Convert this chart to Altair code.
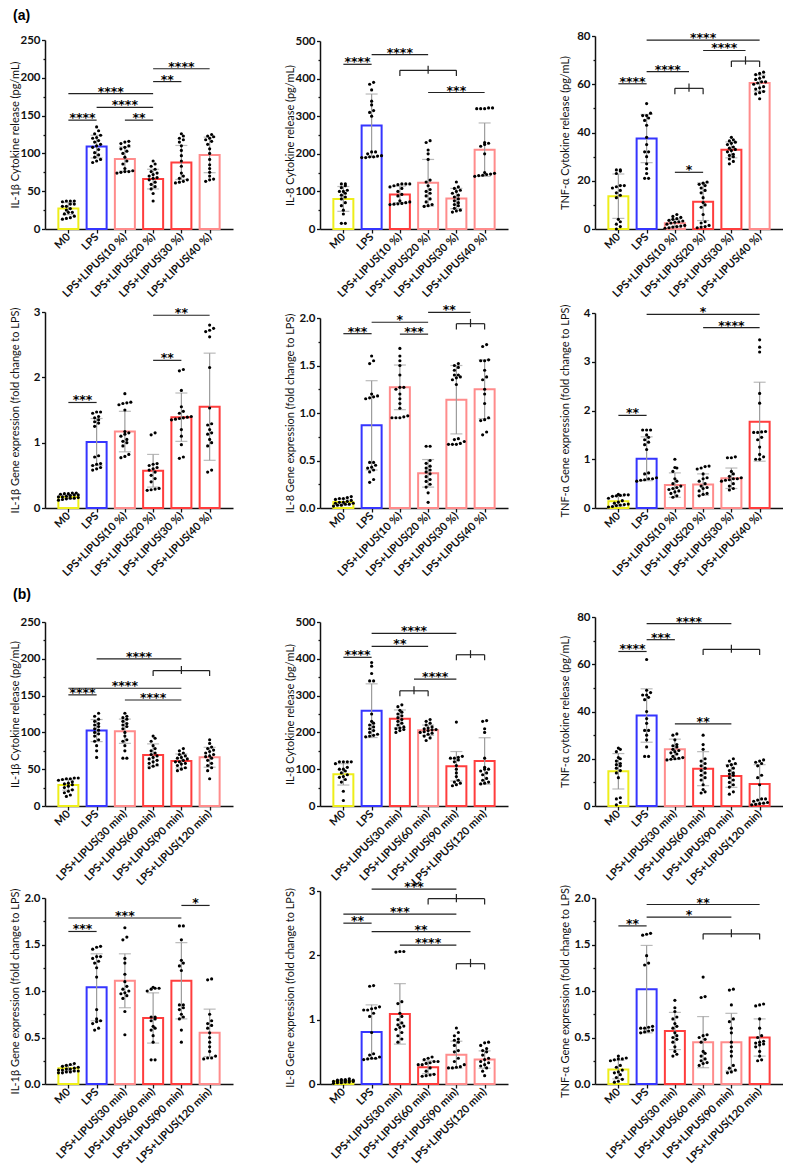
import json
import altair as alt
import pandas as pd

FONT = "Lato"
STAR_FONT = "DejaVu Sans"

CATS_A = ["M0", "LPS", "LPS+LIPUS(10 %)", "LPS+LIPUS(20 %)", "LPS+LIPUS(30 %)", "LPS+LIPUS(40 %)"]
CATS_B = ["M0", "LPS", "LPS+LIPUS(30 min)", "LPS+LIPUS(60 min)", "LPS+LIPUS(90 min)", "LPS+LIPUS(120 min)"]

TONE_DOMAIN = ["M0", "LPS", "red", "light"]
TONE_RANGE = ["#EEEE1A", "#3535FF", "#FF3D3D", "#FF8C8C"]

# ---------------- (a) IL-1b cytokine ----------------
A1_TITLE = "IL-1β Cytokine release (pg/mL)"
A1_MEAN = [27, 109, 92.5, 66, 88, 98]
A1_SD = [8, 15, 16, 13, 22.5, 23.5]
A1_TONE = ["M0", "LPS", "light", "red", "red", "light"]
A1_DOTS = [
    [13, 14, 15, 17, 20, 22, 22, 25, 27, 30, 30, 33, 33, 36, 37, 37, 37],
    [88, 90, 92, 95, 98, 101, 105, 108, 110, 112, 115, 117, 120, 121, 124, 126, 130, 135],
    [74, 75, 76, 76, 77, 80, 86, 90, 95, 100, 103, 106, 108, 110, 113, 115, 116],
    [37, 47, 53, 56, 59, 62, 65, 67, 68, 70, 72, 74, 76, 79, 83, 86, 90],
    [61, 62, 63, 65, 67, 70, 74, 83, 90, 97, 104, 110, 115, 118, 120, 123, 126],
    [63, 65, 66, 70, 75, 80, 85, 92, 100, 106, 112, 116, 118, 120, 122, 123, 125],
]
A1_SIG = [(0, 1, 144, "****"), (2, 3, 144, "**"), (1, 3, 161, "****"),
          (0, 3, 179, "****"), (3, 4, 195, "**"), (3, 5, 212, "****")]

# ---------------- (a) IL-8 cytokine ----------------
A2_TITLE = "IL-8 Cytokine release (pg/mL)"
A2_MEAN = [80, 275, 92, 123, 81, 211]
A2_SD = [33, 84, 22, 62, 27, 71]
A2_TONE = ["M0", "LPS", "red", "light", "light", "light"]
A2_DOTS = [
    [15, 15, 40, 50, 62, 70, 80, 85, 90, 95, 100, 100, 103, 110, 115, 120, 120],
    [190, 190, 192, 192, 194, 195, 200, 205, 205, 300, 310, 315, 330, 340, 370, 385, 390],
    [65, 66, 67, 68, 70, 72, 75, 88, 92, 100, 108, 112, 115, 118, 120, 120, 120],
    [60, 62, 65, 72, 80, 88, 95, 100, 105, 115, 125, 130, 185, 200, 210, 230, 235],
    [45, 48, 50, 55, 62, 65, 70, 75, 80, 85, 90, 95, 100, 103, 108, 112, 125],
    [140, 142, 143, 145, 146, 148, 150, 200, 220, 225, 228, 230, 320, 320, 320, 322, 322],
]
A2_SIG = [(0, 1, 438, "****"), (1, 3, 464, "****"), (2, 4, 422, ""), (3, 5, 363, "***")]

# ---------------- (a) TNF-a cytokine ----------------
A3_TITLE = "TNF-α Cytokine release (pg/mL)"
A3_MEAN = [13.6, 37.5, 2.4, 11.3, 32.8, 60.5]
A3_SD = [9.2, 10, 1.6, 7.8, 3.3, 3.3]
A3_TONE = ["M0", "LPS", "light", "red", "red", "light"]
A3_DOTS = [
    [0, 1, 2, 3, 4, 13, 14, 15, 16, 17, 17.5, 18, 18, 23, 24, 24.5, 24.5],
    [21, 21, 23, 25, 27, 30, 32, 32, 35, 38, 43, 45, 46, 47, 47, 48, 52],
    [0.3, 0.5, 0.8, 1, 1.2, 1.5, 2, 2.5, 2.8, 3, 3.3, 3.6, 4, 4.3, 4.8, 5.2, 6],
    [0.5, 0.8, 1, 1.5, 2.5, 3, 6, 9, 10, 11, 13, 15, 16, 17, 18, 18.5, 19, 19.5],
    [27, 28, 29, 30, 30.5, 31, 32, 32.5, 33, 33.5, 34, 35, 35.5, 36, 36.5, 37, 38],
    [54, 56, 56.5, 57, 58, 58.5, 59, 60, 60.5, 61, 61, 62, 62.5, 63, 64, 64.5, 65],
]
A3_SIG = [(0, 1, 60.2, "****"), (1, 2.5, 65.2, "****"), (2, 3, 58.3, ""), (2, 3, 23.5, "*"),
          (3, 4.5, 74, "****"), (4, 5, 69.6, ""), (1, 5, 78.3, "****")]

# ---------------- (a) IL-1b gene ----------------
A4_TITLE = "IL-1β Gene expression (fold change to LPS)"
A4_MEAN = [0.17, 1.01, 1.17, 0.57, 1.39, 1.55]
A4_SD = [0.03, 0.36, 0.31, 0.25, 0.37, 0.82]
A4_TONE = ["M0", "LPS", "light", "red", "red", "red"]
A4_DOTS = [
    [0.12, 0.13, 0.14, 0.15, 0.15, 0.16, 0.17, 0.17, 0.18, 0.19, 0.2, 0.2, 0.21, 0.22, 0.22, 0.23, 0.23],
    [0.58, 0.6, 0.62, 0.65, 0.67, 0.68, 0.78, 0.8, 1.25, 1.3, 1.32, 1.35, 1.38, 1.4, 1.45, 1.47, 1.47],
    [0.77, 0.79, 0.82, 0.95, 1, 1.02, 1.05, 1.1, 1.13, 1.15, 1.17, 1.5, 1.58, 1.6, 1.61, 1.62, 1.75],
    [0.27, 0.28, 0.29, 0.3, 0.4, 0.45, 0.5, 0.55, 0.58, 0.6, 0.62, 0.65, 0.67, 0.68, 1.12, 1.15],
    [0.76, 0.78, 0.97, 1.1, 1.2, 1.35, 1.36, 1.37, 1.38, 1.39, 1.4, 1.45, 1.48, 1.55, 1.8, 2.1, 2.12],
    [0.55, 0.58, 0.95, 1.0, 1.05, 1.13, 1.15, 1.2, 1.27, 1.29, 1.53, 2.15, 2.62, 2.7, 2.72, 2.75, 2.8],
]
A4_SIG = [(0, 1, 1.615, "***"), (3, 4, 2.26, "**"), (3, 5, 2.95, "**")]

# ---------------- (a) IL-8 gene ----------------
A5_TITLE = "IL-8 Gene expression (fold change to LPS)"
A5_MEAN = [0.063, 0.87, 1.27, 0.365, 1.14, 1.25]
A5_SD = [0.03, 0.47, 0.235, 0.145, 0.36, 0.31]
A5_TONE = ["M0", "LPS", "light", "light", "light", "light"]
A5_DOTS = [
    [0.02, 0.03, 0.03, 0.04, 0.04, 0.05, 0.05, 0.06, 0.06, 0.07, 0.08, 0.09, 0.1, 0.1, 0.11, 0.12],
    [0.27, 0.3, 0.38, 0.4, 0.42, 0.43, 0.45, 0.48, 0.48, 1.15, 1.16, 1.17, 1.18, 1.2, 1.52, 1.55, 1.6],
    [0.95, 0.95, 0.95, 0.96, 0.97, 1.05, 1.1, 1.15, 1.2, 1.25, 1.27, 1.27, 1.4, 1.5, 1.55, 1.6, 1.68],
    [0.06, 0.16, 0.22, 0.25, 0.28, 0.3, 0.33, 0.36, 0.38, 0.4, 0.42, 0.44, 0.47, 0.5, 0.65, 0.65],
    [0.67, 0.67, 0.67, 0.68, 0.7, 0.72, 0.73, 1.3, 1.35, 1.37, 1.38, 1.4, 1.4, 1.45, 1.48, 1.5, 1.52],
    [0.77, 0.8, 0.92, 0.93, 0.95, 1.1, 1.2, 1.25, 1.35, 1.38, 1.45, 1.55, 1.55, 1.56, 1.7, 1.72],
]
A5_SIG = [(0, 1, 1.835, "***"), (1, 3, 1.955, "*"), (2, 3, 1.83, "***"),
          (3, 4.5, 2.06, "**"), (4, 5, 1.94, "")]

# ---------------- (a) TNF-a gene ----------------
A6_TITLE = "TNF-α Gene expression (fold change to LPS)"
A6_MEAN = [0.14, 1.01, 0.47, 0.48, 0.61, 1.77]
A6_SD = [0.1, 0.45, 0.25, 0.22, 0.21, 0.81]
A6_TONE = ["M0", "LPS", "light", "light", "light", "red"]
A6_DOTS = [
    [0.02, 0.03, 0.05, 0.06, 0.07, 0.08, 0.1, 0.12, 0.15, 0.2, 0.24, 0.25, 0.26, 0.27, 0.27, 0.28],
    [0.55, 0.57, 0.58, 0.6, 0.6, 0.62, 0.7, 0.72, 1.2, 1.3, 1.35, 1.4, 1.45, 1.5, 1.6, 1.6, 1.6],
    [0.22, 0.25, 0.3, 0.33, 0.35, 0.38, 0.4, 0.42, 0.45, 0.5, 0.55, 0.6, 0.75, 0.82, 0.83, 1.0],
    [0.25, 0.28, 0.3, 0.35, 0.4, 0.42, 0.45, 0.5, 0.55, 0.6, 0.62, 0.7, 0.8, 0.82, 0.85, 0.86],
    [0.37, 0.4, 0.45, 0.5, 0.55, 0.57, 0.58, 0.6, 0.6, 0.62, 0.65, 0.7, 0.75, 1.03, 1.03, 1.05],
    [1.0, 1.0, 1.05, 1.1, 1.25, 1.4, 1.45, 1.55, 1.55, 1.56, 1.57, 2.15, 2.35, 3.2, 3.3, 3.45],
]
A6_SIG = [(0, 1, 1.9, "**"), (3, 5, 3.7, "****"), (1, 5, 3.97, "*")]

# ---------------- (b) IL-1b cytokine ----------------
B1_TITLE = "IL-1β Cytokine release (pg/mL)"
B1_MEAN = [28.6, 102.5, 101.6, 69.4, 61.2, 66.2]
B1_SD = [7, 15, 16.5, 15, 9.5, 13.5]
B1_TONE = ["M0", "LPS", "light", "red", "red", "light"]
B1_DOTS = [
    [13, 15, 18, 20, 22, 25, 27, 29, 30, 31, 33, 35, 36, 37, 37, 38, 38],
    [66, 75, 82, 88, 90, 95, 98, 100, 103, 105, 108, 110, 112, 115, 118, 122, 126],
    [65, 65, 75, 82, 88, 90, 95, 100, 105, 108, 110, 112, 115, 118, 120, 122, 126],
    [52, 54, 56, 58, 60, 62, 64, 66, 68, 70, 72, 75, 78, 82, 88, 92, 95],
    [48, 50, 52, 55, 57, 58, 60, 60, 62, 64, 65, 66, 68, 70, 72, 75, 78],
    [37, 48, 52, 55, 58, 62, 65, 67, 68, 70, 72, 74, 76, 78, 80, 85, 90],
]
B1_SIG = [(0, 1, 151, "****"), (2, 4, 144, "****"), (0, 4, 160, "****"),
          (3, 5, 184, ""), (1, 4, 200, "****")]

# ---------------- (b) IL-8 cytokine ----------------
B2_TITLE = "IL-8 Cytokine release (pg/mL)"
B2_MEAN = [86, 259, 237, 206, 108, 122.5]
B2_SD = [29, 73, 24, 14, 40, 63]
B2_TONE = ["M0", "LPS", "red", "light", "red", "red"]
B2_DOTS = [
    [15, 40, 65, 72, 78, 80, 85, 90, 95, 100, 100, 105, 115, 120, 120, 120, 120],
    [188, 190, 192, 195, 200, 205, 210, 215, 220, 225, 230, 250, 340, 340, 360, 380, 390],
    [200, 205, 208, 210, 212, 215, 220, 225, 230, 235, 240, 245, 250, 255, 260, 270, 275],
    [178, 185, 190, 195, 198, 200, 202, 205, 207, 208, 210, 212, 215, 220, 225, 230, 235],
    [55, 58, 62, 65, 70, 80, 90, 100, 110, 120, 125, 130, 130, 132, 135, 228],
    [60, 62, 65, 70, 75, 85, 90, 95, 100, 100, 105, 130, 200, 210, 230, 232],
]
B2_SIG = [(0, 1, 404, "****"), (1, 3, 434, "**"), (1, 4, 469, "****"), (2, 3, 313, ""),
          (2.5, 4, 345, "****"), (4, 5, 411, "")]

# ---------------- (b) TNF-a cytokine ----------------
B3_TITLE = "TNF-α cytokine release (pg/mL)"
B3_MEAN = [14.7, 38.3, 24, 15.8, 12.7, 9.3]
B3_SD = [7.5, 11.3, 4.3, 7.2, 4.8, 8.2]
B3_TONE = ["M0", "LPS", "light", "red", "red", "red"]
B3_DOTS = [
    [0.5, 1.5, 3, 3.5, 12, 14, 15, 16, 17, 17.5, 18, 19, 20, 20.5, 23, 24, 24.5],
    [21, 21, 25, 28, 30, 32, 32, 35, 37, 40, 45, 46, 47, 47, 48, 49, 62],
    [19.5, 19.8, 20, 20.2, 20.5, 21, 22, 22.5, 23, 23.5, 24, 25, 25.5, 26, 28, 30, 30.5],
    [5.5, 6, 7, 9, 11, 12, 13, 14, 15, 16, 17, 18, 19, 20, 24, 26, 30],
    [5, 6, 8, 9, 10, 11, 12, 13, 13.5, 14, 15, 16, 17, 17.5, 18, 19, 20],
    [0.5, 0.7, 1, 1.2, 1.5, 2, 2.5, 3, 3, 9, 12, 13, 17, 18, 18.5, 19, 19.5],
]
B3_SIG = [(0, 1, 65.4, "****"), (1, 2, 70.4, "***"), (1, 4, 77.2, "****"),
          (3, 5, 66.3, ""), (2, 4, 34.8, "**")]

# ---------------- (b) IL-1b gene ----------------
B4_TITLE = "IL-1β Gene expression (fold change to LPS)"
B4_MEAN = [0.17, 1.04, 1.11, 0.71, 1.11, 0.55]
B4_SD = [0.03, 0.36, 0.29, 0.27, 0.41, 0.255]
B4_TONE = ["M0", "LPS", "light", "red", "red", "light"]
B4_DOTS = [
    [0.12, 0.12, 0.13, 0.13, 0.14, 0.14, 0.15, 0.15, 0.16, 0.16, 0.17, 0.18, 0.19, 0.2, 0.21, 0.22],
    [0.58, 0.6, 0.65, 0.67, 0.68, 0.7, 0.8, 1.15, 1.25, 1.3, 1.32, 1.35, 1.37, 1.37, 1.45, 1.47, 1.48],
    [0.53, 0.78, 0.92, 0.95, 0.97, 0.98, 1.0, 1.02, 1.05, 1.1, 1.18, 1.3, 1.35, 1.55, 1.58, 1.68],
    [0.26, 0.26, 0.45, 0.52, 0.58, 0.6, 0.62, 0.68, 0.7, 0.72, 0.72, 1.0, 1.02, 1.03, 1.03, 1.04],
    [0.45, 0.58, 0.7, 0.72, 0.75, 0.8, 0.82, 0.85, 0.85, 1.22, 1.27, 1.3, 1.33, 1.55, 1.7, 1.7],
    [0.27, 0.28, 0.28, 0.3, 0.35, 0.4, 0.45, 0.5, 0.55, 0.6, 0.63, 0.65, 0.68, 0.75, 1.12, 1.13],
]
B4_SIG = [(0, 1, 1.64, "***"), (0, 4, 1.785, "***"), (4, 5, 1.92, "*")]

# ---------------- (b) IL-8 gene ----------------
B5_TITLE = "IL-8 Gene expression (fold change to LPS)"
B5_MEAN = [0.04, 0.81, 1.09, 0.26, 0.455, 0.38]
B5_SD = [0.02, 0.42, 0.47, 0.1, 0.21, 0.135]
B5_TONE = ["M0", "LPS", "red", "red", "light", "light"]
B5_DOTS = [
    [0.01, 0.02, 0.02, 0.03, 0.03, 0.04, 0.04, 0.04, 0.05, 0.05, 0.05, 0.06, 0.06, 0.07, 0.07, 0.08],
    [0.38, 0.39, 0.4, 0.4, 0.42, 0.45, 0.47, 0.8, 1.05, 1.1, 1.15, 1.15, 1.17, 1.18, 1.2, 1.52, 1.53],
    [0.65, 0.7, 0.75, 0.8, 0.85, 0.88, 0.9, 0.92, 0.95, 1.0, 1.05, 1.1, 1.25, 1.28, 2.05, 2.06, 2.06],
    [0.12, 0.13, 0.14, 0.15, 0.2, 0.25, 0.3, 0.3, 0.32, 0.33, 0.35, 0.35, 0.38, 0.4, 0.42],
    [0.25, 0.25, 0.26, 0.27, 0.3, 0.35, 0.4, 0.5, 0.52, 0.6, 0.65, 0.68, 0.7, 0.75, 0.8, 0.87],
    [0.13, 0.2, 0.25, 0.28, 0.3, 0.33, 0.35, 0.38, 0.4, 0.45, 0.5, 0.52, 0.55, 0.6, 0.64, 0.65],
]
B5_SIG = [(0, 1, 2.5, "**"), (0, 4, 2.64, "***"), (1, 4.5, 2.37, "**"), (2, 4, 2.16, "****"),
          (4, 5, 1.87, ""), (1, 4, 3.03, "***"), (3, 5, 2.88, "")]

# ---------------- (b) TNF-a gene ----------------
B6_TITLE = "TNF-α Gene expression (fold change to LPS)"
B6_MEAN = [0.155, 1.02, 0.57, 0.45, 0.45, 0.5]
B6_SD = [0.1, 0.47, 0.2, 0.275, 0.31, 0.2]
B6_TONE = ["M0", "LPS", "red", "light", "light", "red"]
B6_DOTS = [
    [0.02, 0.03, 0.05, 0.07, 0.1, 0.12, 0.13, 0.15, 0.18, 0.2, 0.25, 0.26, 0.27, 0.27, 0.28, 0.3],
    [0.55, 0.56, 0.57, 0.58, 0.6, 0.6, 0.61, 0.62, 1.28, 1.3, 1.38, 1.6, 1.61, 1.62],
    [0.3, 0.32, 0.35, 0.4, 0.45, 0.48, 0.5, 0.52, 0.55, 0.6, 0.62, 0.65, 0.7, 0.72, 0.78, 0.82, 0.9],
    [0.2, 0.22, 0.23, 0.25, 0.27, 0.3, 0.33, 0.35, 0.45, 0.48, 0.5, 0.52, 0.53, 0.93, 0.94, 1.15],
    [0.12, 0.13, 0.15, 0.17, 0.2, 0.3, 0.35, 0.4, 0.45, 0.55, 0.6, 0.67, 0.7, 0.85, 1.01, 1.02],
    [0.25, 0.26, 0.3, 0.35, 0.4, 0.42, 0.43, 0.44, 0.45, 0.46, 0.5, 0.52, 0.6, 0.7, 0.84, 0.85, 0.86],
]
B6_SIG = [(0, 1, 1.7, "**"), (1, 4, 1.795, "*"), (1, 5, 1.93, "**"), (3, 5, 1.615, "")]

# ---------------- layout (pixels) ----------------
W = 188
ROW_H = [221, 219, 238, 218]

PANELS = [
    dict(cats=CATS_A, title=A1_TITLE, ymax=250, step=50, fmt="d", mean=A1_MEAN, sd=A1_SD, tone=A1_TONE, dots=A1_DOTS, sig=A1_SIG, ph=189, row=0, header="(a)", hdy=15),
    dict(cats=CATS_A, title=A2_TITLE, ymax=500, step=100, fmt="d", mean=A2_MEAN, sd=A2_SD, tone=A2_TONE, dots=A2_DOTS, sig=A2_SIG, ph=188, row=0),
    dict(cats=CATS_A, title=A3_TITLE, ymax=80, step=20, fmt="d", mean=A3_MEAN, sd=A3_SD, tone=A3_TONE, dots=A3_DOTS, sig=A3_SIG, ph=193, row=0),
    dict(cats=CATS_A, title=A4_TITLE, ymax=3, step=1, fmt="d", mean=A4_MEAN, sd=A4_SD, tone=A4_TONE, dots=A4_DOTS, sig=A4_SIG, ph=196, row=1),
    dict(cats=CATS_A, title=A5_TITLE, ymax=2, step=0.5, fmt=".1f", mean=A5_MEAN, sd=A5_SD, tone=A5_TONE, dots=A5_DOTS, sig=A5_SIG, ph=190, row=1),
    dict(cats=CATS_A, title=A6_TITLE, ymax=4, step=1, fmt="d", mean=A6_MEAN, sd=A6_SD, tone=A6_TONE, dots=A6_DOTS, sig=A6_SIG, ph=195, row=1),
    dict(cats=CATS_B, title=B1_TITLE, ymax=250, step=50, fmt="d", mean=B1_MEAN, sd=B1_SD, tone=B1_TONE, dots=B1_DOTS, sig=B1_SIG, ph=184, row=2, header="(b)", hdy=34),
    dict(cats=CATS_B, title=B2_TITLE, ymax=500, step=100, fmt="d", mean=B2_MEAN, sd=B2_SD, tone=B2_TONE, dots=B2_DOTS, sig=B2_SIG, ph=184, row=2),
    dict(cats=CATS_B, title=B3_TITLE, ymax=80, step=20, fmt="d", mean=B3_MEAN, sd=B3_SD, tone=B3_TONE, dots=B3_DOTS, sig=B3_SIG, ph=189, row=2),
    dict(cats=CATS_B, title=B4_TITLE, ymax=2, step=0.5, fmt=".1f", mean=B4_MEAN, sd=B4_SD, tone=B4_TONE, dots=B4_DOTS, sig=B4_SIG, ph=186, row=3),
    dict(cats=CATS_B, title=B5_TITLE, ymax=3, step=1, fmt="d", mean=B5_MEAN, sd=B5_SD, tone=B5_TONE, dots=B5_DOTS, sig=B5_SIG, ph=193, row=3),
    dict(cats=CATS_B, title=B6_TITLE, ymax=2, step=0.5, fmt=".1f", mean=B6_MEAN, sd=B6_SD, tone=B6_TONE, dots=B6_DOTS, sig=B6_SIG, ph=186, row=3),
]


def spread(vals, tol, maxrow=6):
    """GraphPad-like scatter: values close together are laid side by side."""
    order = sorted(vals)
    rows, cur = [], [order[0]]
    for v in order[1:]:
        if v - cur[0] <= tol and len(cur) < maxrow:
            cur.append(v)
        else:
            rows.append(cur)
            cur = [v]
    rows.append(cur)
    out = []
    for r in rows:
        k = len(r)
        for j, v in enumerate(r):
            out.append((v, j - (k - 1) / 2))
    return out


def make_panel(p):
    cats, ymax, ph, step = p["cats"], p["ymax"], p["ph"], p["step"]
    H = ROW_H[p["row"]]
    n = len(cats)
    xs = alt.Scale(domain=[-0.65, n - 0.35], nice=False, zero=False)
    ys = alt.Scale(domain=[0, ymax], range=[H, H - ph], nice=False, zero=False)
    nt = int(round(ymax / step))
    # major ticks plus GraphPad-style minor ticks halfway between them
    yvals = [round(k * step / 2, 4) for k in range(2 * nt + 1)]
    is_minor = f"abs(datum.value / {step} - round(datum.value / {step})) > 0.01"

    xaxis = alt.Axis(values=list(range(n)), labelExpr=json.dumps(cats) + "[datum.value]",
                     labelAngle=-45, labelAlign="right", labelBaseline="middle",
                     labelFont=FONT, labelFontSize=11, labelFontWeight="bold", labelColor="#111",
                     labelPadding=2, labelOverlap=False, labelFlush=False,
                     tickSize=4, tickColor="#111", tickWidth=1.3,
                     domainColor="#111", domainWidth=1.5, grid=False, title=None)
    yaxis = alt.Axis(values=yvals, format=p["fmt"],
                     labelExpr=f"{is_minor} ? '' : datum.label",
                     labelFont=FONT, labelFontSize=11.5, labelFontWeight="bold", labelColor="#111",
                     labelPadding=1.5, labelOverlap=False, labelFlush=False,
                     tickSize={"condition": {"test": is_minor, "value": 2}, "value": 3.5},
                     tickColor="#111", tickWidth=1.3,
                     domainColor="#111", domainWidth=1.5, grid=False,
                     title=p["title"], titleX=-25, titleY=H - ph / 2, titleBaseline="bottom",
                     titleFont=FONT, titleFontSize=11, titleFontWeight="normal", titleColor="#111")

    bars = pd.DataFrame({
        "x": list(range(n)), "mean": p["mean"],
        "lo": [max(0, m - s) for m, s in zip(p["mean"], p["sd"])],
        "hi": [m + s for m, s in zip(p["mean"], p["sd"])],
        "tone": p["tone"],
    })
    caps = pd.DataFrame({"x": list(range(n)) * 2, "lo": list(bars["lo"]) + list(bars["hi"])})

    drows = []
    tol = 0.018 * ymax
    for i, vals in enumerate(p["dots"]):
        for v, off in spread(vals, tol):
            drows.append({"x": i + off * 0.14, "mean": v})
    dots = pd.DataFrame(drows)

    lines, ticks, texts = [], [], []
    for a, b, y, lab in p["sig"]:
        lines.append({"x": a, "x2": b, "mean": y})
        if lab:
            texts.append({"x": (a + b) / 2, "mean": y, "label": lab})
        else:
            d = 0.03 * ymax
            ticks.append({"x": a, "mean": y, "hi": y - d})
            ticks.append({"x": b, "mean": y, "hi": y - d})
            ticks.append({"x": (a + b) / 2, "mean": y - 0.018 * ymax, "hi": y + 0.025 * ymax})
    lines = pd.DataFrame(lines)

    # every layer shares the same axis definitions so the merged axes are identical
    X = lambda f: alt.X(f, type="quantitative", scale=xs, axis=xaxis)
    Y = lambda f: alt.Y(f, type="quantitative", scale=ys, axis=yaxis)

    layers = [
        alt.Chart(bars).mark_bar(orient="vertical", width=20, fill="white", strokeWidth=2).encode(
            x=X("x"), y=Y("mean"),
            stroke=alt.Stroke("tone:N", scale=alt.Scale(domain=TONE_DOMAIN, range=TONE_RANGE), legend=None)),
        alt.Chart(bars).mark_rule(color="#9C9C9C", strokeWidth=1.2).encode(
            x=X("x"), y=Y("lo"), y2="hi"),
        alt.Chart(caps).mark_tick(orient="horizontal", size=12, thickness=1.2, color="#9C9C9C").encode(
            x=X("x"), y=Y("lo")),
        alt.Chart(dots).mark_circle(size=10, color="#000", opacity=1).encode(
            x=X("x"), y=Y("mean")),
        alt.Chart(lines).mark_rule(color="#222", strokeWidth=1.2).encode(
            x=X("x"), x2="x2", y=Y("mean")),
    ]
    if ticks:
        layers.append(alt.Chart(pd.DataFrame(ticks)).mark_rule(color="#222", strokeWidth=1.2).encode(
            x=X("x"), y=Y("mean"), y2="hi"))
    if texts:
        layers.append(alt.Chart(pd.DataFrame(texts)).mark_text(
            font=STAR_FONT, fontSize=12.5, fontWeight="bold", color="#000", align="center",
            baseline="alphabetic", dy=2).encode(
            x=X("x"), y=Y("mean"), text="label:N"))

    ch = alt.layer(*layers).properties(width=W, height=H)
    if p.get("header"):
        ch = ch.properties(title=alt.TitleParams(
            text=p["header"], anchor="start", frame="group", orient="top", offset=0,
            baseline="top", dx=-32, dy=p["hdy"], font="Liberation Sans", fontSize=14,
            fontWeight="bold", color="#000"))
    return ch


chart = alt.concat(*[make_panel(p) for p in PANELS], columns=3,
                   spacing={"row": 60, "column": 87}, bounds="flush").properties(
    padding={"left": 0, "top": 0, "right": 0, "bottom": 0}
).configure_view(strokeWidth=0)

chart.save("out.html", embed_options={"renderer": "svg", "actions": False})
